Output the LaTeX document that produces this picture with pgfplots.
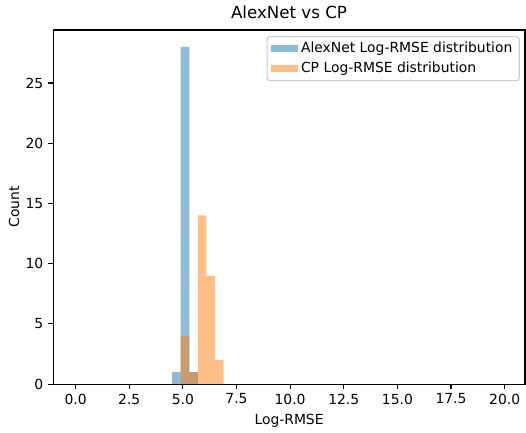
\documentclass[border=0pt]{standalone}
\usepackage{fontspec}
\setmainfont{DejaVu Sans}
\usepackage{pgfplots}
\pgfplotsset{compat=1.18}
\usetikzlibrary{calc}
\definecolor{mblue}{HTML}{1F77B4}
\definecolor{morange}{HTML}{FF7F0E}
\begin{document}
\begin{tikzpicture}
\begin{axis}[
  name=ax,
  scale only axis, width=339.8pt, height=254.9pt,
  xmin=-1.05, xmax=20.95, ymin=0, ymax=29.4,
  xtick={0,2.5,5,7.5,10,12.5,15,17.5,20},
  ytick={0,5,10,15,20,25},
  x tick label style={/pgf/number format/.cd, fixed, fixed zerofill, precision=1, assume math mode=true, /tikz/.cd},
  y tick label style={/pgf/number format/assume math mode=true},
  tick align=outside, tick pos=left, major tick length=3.5pt,
  tick style={line width=0.8pt, black},
  axis line style={line width=0.8pt},
  font=\fontsize{10}{12}\selectfont,
  title={AlexNet vs CP},
  title style={font=\fontsize{12}{14}\selectfont, at={(rel axis cs:0.5,1)}, anchor=south, inner sep=0pt, yshift=1.8pt},
  xlabel={Log-RMSE},
  xlabel style={at={(rel axis cs:0.5,0)}, anchor=north, inner sep=0pt, yshift=-21.5pt},
  ylabel={Count},
  ylabel style={inner sep=1pt},
  legend cell align=left,
  legend style={at={(rel axis cs:0.989,0.983)}, anchor=north east, draw=black!20, line width=0.8pt, rounded corners=2pt,
    fill=white, fill opacity=0.8, text opacity=1, font=\fontsize{10}{12}\selectfont,
    inner xsep=3pt, inner ysep=2pt, row sep=1.5pt},
]
\addplot[ybar interval, fill=mblue, fill opacity=0.5, draw=none,
  legend image code/.code={\fill[sharp corners, mblue, fill opacity=0.5] (0pt,-2.6pt) rectangle (19.4pt,2.6pt);}]
  coordinates {(4.5,1) (4.9,28) (5.3,1) (5.7,0)};
\addlegendentry{AlexNet Log-RMSE distribution}
\addplot[ybar interval, fill=morange, fill opacity=0.5, draw=none,
  legend image code/.code={\fill[sharp corners, morange, fill opacity=0.5] (0pt,-2.6pt) rectangle (19.4pt,2.6pt);}]
  coordinates {(4.9,4) (5.3,1) (5.7,14) (6.1,9) (6.5,2) (6.9,0)};
\addlegendentry{CP Log-RMSE distribution}
\coordinate (bl) at (rel axis cs:0,0);
\coordinate (tr) at (rel axis cs:1,1);
\end{axis}
\pgfresetboundingbox
\useasboundingbox ($(bl)+(-38.2pt,-34.6pt)$) rectangle ($(tr)+(0.7pt,21.6pt)$);
\end{tikzpicture}
\end{document}
